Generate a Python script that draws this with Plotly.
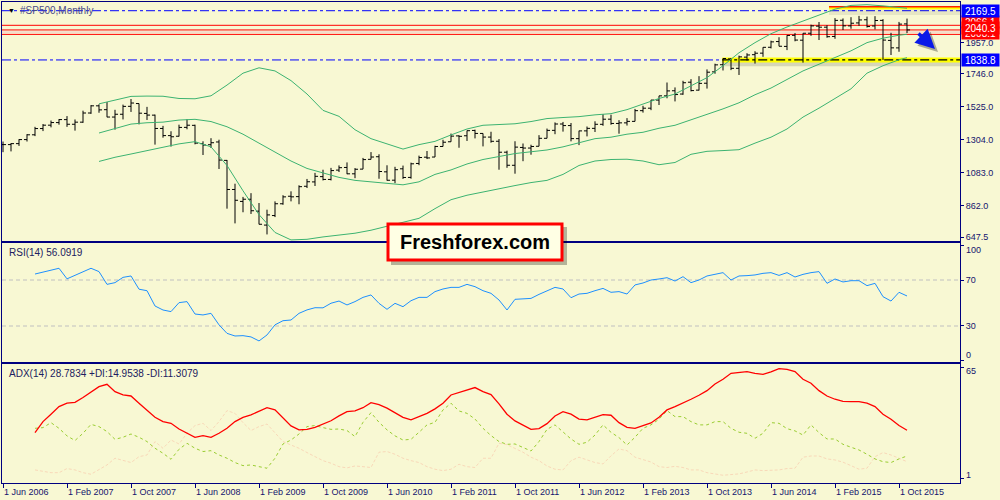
import plotly.graph_objects as go
from plotly.subplots import make_subplots

# MetaTrader-like colours
BG = "#F8F8D3"
FRAME = "#000080"
TXT = "#14146E"
BB_GREEN = "#3CB371"

# monthly bars, index 0 = Jun 2006 ... 113 = Nov 2015
month_idx = list(range(114))

opens = [
    1270.1, 1270.2, 1276.7, 1303.8, 1335.9, 1377.9, 1400.6,
    1418.0, 1437.9, 1406.8, 1420.8, 1482.4, 1530.6, 1504.7, 1455.2, 1474.0, 1527.3, 1545.8, 1479.6,
    1468.0, 1378.6, 1330.5, 1326.4, 1386.0, 1399.6, 1276.7, 1269.4, 1287.8, 1164.2, 968.7, 888.6,
    903.0, 823.1, 729.6, 793.6, 872.7, 923.3, 920.8, 990.2, 1019.5, 1054.9, 1036.2, 1098.9,
    1116.6, 1073.9, 1105.4, 1171.2, 1188.6, 1087.3, 1031.1, 1107.5, 1049.7, 1143.5, 1185.7, 1186.6,
    1257.6, 1289.1, 1328.6, 1329.5, 1365.2, 1345.2, 1320.6, 1292.6, 1219.1, 1131.2, 1251.0, 1246.9,
    1258.9, 1312.5, 1365.9, 1408.5, 1398.0, 1310.3, 1362.3, 1379.3, 1406.5, 1440.9, 1412.2, 1416.2,
    1426.2, 1498.1, 1514.7, 1569.2, 1597.6, 1631.7, 1609.8, 1689.4, 1636.0, 1682.4, 1758.7, 1806.6,
    1845.9, 1782.7, 1857.7, 1874.0, 1884.4, 1923.9, 1962.3, 1929.8, 2004.1, 1971.4, 2018.2, 2065.8,
    2058.9, 1996.7, 2105.2, 2067.6, 2087.4, 2108.6, 2067.0, 2104.5, 1970.1, 1919.7, 2080.8,
]
highs = [
    1290.7, 1280.4, 1306.7, 1340.3, 1389.5, 1407.9, 1431.8,
    1441.6, 1461.6, 1438.9, 1498.0, 1535.6, 1540.6, 1555.9, 1503.9, 1538.7, 1576.1, 1545.8, 1523.6,
    1471.8, 1396.0, 1359.7, 1404.1, 1440.2, 1404.1, 1292.2, 1313.2, 1303.0, 1167.0, 1007.5, 918.9,
    943.9, 877.9, 833.0, 888.7, 930.2, 956.2, 996.7, 1039.5, 1080.2, 1101.4, 1113.7, 1130.4,
    1150.5, 1112.4, 1180.7, 1219.8, 1205.1, 1131.2, 1121.0, 1129.2, 1148.9, 1196.1, 1227.1, 1262.6,
    1302.7, 1344.1, 1332.3, 1364.6, 1370.6, 1345.2, 1356.5, 1307.4, 1229.3, 1292.7, 1277.6, 1269.4,
    1333.5, 1378.0, 1419.2, 1422.4, 1415.3, 1363.5, 1391.7, 1426.7, 1474.5, 1471.0, 1434.3, 1448.0,
    1509.9, 1530.9, 1570.3, 1597.6, 1687.2, 1654.2, 1698.8, 1709.7, 1729.9, 1775.2, 1813.6, 1849.4,
    1850.8, 1867.9, 1884.0, 1897.3, 1924.0, 1968.2, 1991.4, 2005.0, 2019.3, 2018.2, 2075.8, 2093.6,
    2072.4, 2119.6, 2117.5, 2125.9, 2134.7, 2129.9, 2132.8, 2112.7, 2021.0, 2094.3, 2116.5,
]
lows = [
    1219.3, 1224.5, 1261.3, 1290.9, 1327.1, 1360.9, 1385.9,
    1404.0, 1389.4, 1364.0, 1416.4, 1476.7, 1484.2, 1454.3, 1370.6, 1439.3, 1489.6, 1406.1, 1435.7,
    1270.1, 1316.8, 1257.0, 1324.4, 1373.1, 1272.0, 1200.4, 1247.5, 1106.4, 839.8, 741.0, 815.7,
    804.3, 734.5, 666.8, 783.3, 866.1, 888.9, 869.3, 978.5, 992.0, 1029.4, 1029.4, 1085.9,
    1071.6, 1044.5, 1105.4, 1170.7, 1040.8, 1028.3, 1010.9, 1039.7, 1041.2, 1131.9, 1173.0, 1186.6,
    1257.6, 1289.1, 1249.1, 1294.7, 1311.8, 1258.1, 1282.9, 1101.5, 1114.2, 1074.8, 1158.7, 1202.4,
    1258.9, 1312.5, 1340.0, 1357.4, 1292.0, 1266.7, 1325.4, 1354.7, 1396.6, 1403.3, 1343.4, 1398.1,
    1426.2, 1485.0, 1501.5, 1536.0, 1581.3, 1560.3, 1604.6, 1627.5, 1633.4, 1646.5, 1746.2, 1768.0,
    1770.5, 1737.9, 1834.4, 1814.4, 1859.8, 1916.0, 1930.7, 1904.8, 1964.0, 1820.7, 2001.0, 1972.6,
    1988.1, 1980.9, 2039.7, 2048.4, 2067.9, 2056.3, 2044.0, 1838.8, 1871.9, 1893.7, 2019.4,
]
closes = [
    1270.2, 1276.7, 1303.8, 1335.9, 1377.9, 1400.6, 1418.3,
    1438.2, 1406.8, 1420.9, 1482.4, 1530.6, 1503.4, 1455.3, 1474.0, 1526.8, 1549.4, 1481.1, 1468.4,
    1378.6, 1330.6, 1322.7, 1385.6, 1400.4, 1280.0, 1267.4, 1282.8, 1166.4, 968.8, 896.2, 903.3,
    825.9, 735.1, 797.9, 872.8, 919.1, 919.3, 987.5, 1020.6, 1057.1, 1036.2, 1095.6, 1115.1,
    1073.9, 1104.5, 1169.4, 1186.7, 1089.4, 1030.7, 1101.6, 1049.3, 1141.2, 1183.3, 1180.6, 1257.6,
    1286.1, 1327.2, 1325.8, 1363.6, 1345.2, 1320.6, 1292.3, 1218.9, 1131.4, 1253.3, 1247.0, 1257.6,
    1312.4, 1365.7, 1408.5, 1397.9, 1310.3, 1362.2, 1379.3, 1406.6, 1440.7, 1412.2, 1416.2, 1426.2,
    1498.1, 1514.7, 1569.2, 1597.6, 1630.7, 1606.3, 1685.7, 1633.0, 1681.6, 1756.5, 1805.8, 1848.4,
    1782.6, 1859.5, 1872.3, 1884.0, 1923.6, 1960.2, 1930.7, 2003.4, 1972.3, 2018.1, 2067.6, 2058.9,
    1995.0, 2104.5, 2067.9, 2085.5, 2107.4, 2063.1, 2103.8, 1972.2, 1920.0, 2079.4, 2040.3,
]

# Bollinger bands (every second month)
bb_idx = [12, 14, 16, 18, 20, 22, 24, 26, 28, 30, 32, 34, 36, 38, 40, 42, 44, 46, 48, 50,
          52, 54, 56, 58, 60, 62, 64, 66, 68, 70, 72, 74, 76, 78, 80, 82, 84, 86, 88, 90,
          92, 94, 96, 98, 100, 102, 104, 106, 108, 110, 112, 113]
bb_upper = [1544, 1570, 1594, 1596, 1595, 1580, 1578, 1598, 1670, 1750, 1786, 1765, 1700, 1610, 1500, 1460, 1370, 1310, 1275, 1240,
            1270, 1292, 1335, 1375, 1400, 1406, 1410, 1425, 1445, 1452, 1458, 1470, 1478, 1505, 1545, 1580, 1610, 1665, 1720, 1800,
            1887, 1955, 2015, 2060, 2100, 2140, 2180, 2205, 2210, 2202, 2190, 2186]
bb_middle = [1348, 1380, 1408, 1417, 1421, 1435, 1440, 1425, 1390, 1340, 1280, 1220, 1160, 1110, 1078, 1050, 1030, 1020, 1010, 1000,
             1020, 1070, 1100, 1140, 1170, 1190, 1210, 1222, 1234, 1255, 1280, 1310, 1320, 1340, 1353, 1380, 1400, 1435, 1472, 1510,
             1551, 1605, 1650, 1705, 1765, 1810, 1855, 1900, 1955, 1985, 2005, 2011]
bb_lower = [1157, 1185, 1207, 1230, 1250, 1275, 1290, 1255, 1130, 960, 800, 680, 630, 634, 650, 660, 675, 695, 720, 745,
            775, 840, 900, 930, 950, 975, 995, 1015, 1030, 1070, 1130, 1160, 1170, 1172, 1160, 1135, 1150, 1205, 1225, 1230,
            1236, 1280, 1320, 1375, 1455, 1515, 1580, 1645, 1750, 1800, 1840, 1854]

# indicator panes, months 4 .. 113
ind_idx = list(range(4, 114))
rsi = [75.2, 76.7, 78.5, 80.2, 71.0, 74.0, 77.3, 80.2, 77.3, 66.2, 67.7, 72.3, 73.5, 62.0, 60.7, 47.4,
       43.9, 42.5, 50.3, 51.2, 40.4, 39.6, 41.0, 31.0, 23.6, 21.3, 21.6, 20.5, 17.0, 22.2, 31.0, 34.6,
       35.2, 41.0, 44.0, 45.9, 45.8, 49.8, 51.7, 48.3, 51.2, 54.9, 57.0, 49.7, 44.5, 49.7, 46.8, 52.0,
       54.9, 54.9, 59.9, 62.2, 63.6, 63.6, 66.2, 64.2, 60.7, 58.4, 52.6, 43.9, 53.2, 53.5, 54.0, 57.5,
       60.7, 63.6, 62.2, 54.6, 57.8, 58.4, 60.7, 62.7, 59.3, 59.9, 57.8, 65.7, 67.4, 70.0, 70.9, 72.0,
       69.1, 72.9, 67.7, 70.0, 73.5, 75.2, 76.4, 70.0, 73.5, 73.8, 74.4, 75.8, 76.4, 74.0, 76.4, 72.6,
       74.9, 76.4, 77.3, 67.1, 70.9, 68.3, 69.4, 69.4, 65.1, 67.1, 55.5, 51.7, 59.3, 56.1]
adx = [27.4, 33.8, 38.1, 42.5, 44.5, 45.0, 47.8, 51.2, 54.1, 55.5, 51.2, 49.3, 48.7, 44.5, 40.2, 36.3,
       33.8, 32.8, 29.5, 27.0, 24.7, 25.7, 24.7, 27.0, 29.9, 33.8, 36.3, 37.7, 39.6, 41.9, 40.6, 35.7,
       31.3, 29.0, 29.3, 30.5, 32.3, 34.3, 37.1, 39.6, 40.0, 41.9, 44.8, 43.7, 41.6, 39.0, 36.3, 34.8,
       36.5, 38.6, 41.2, 44.5, 49.3, 50.7, 51.8, 53.6, 51.2, 49.5, 44.1, 38.1, 34.2, 31.5, 29.3, 29.7,
       32.6, 37.1, 39.6, 38.1, 35.3, 34.8, 36.3, 37.9, 37.5, 33.2, 30.5, 29.9, 31.5, 33.0, 36.3, 40.6,
       42.5, 44.5, 46.8, 49.1, 51.8, 55.7, 58.4, 61.9, 62.5, 62.9, 61.9, 61.3, 62.7, 64.6, 64.2, 62.9,
       58.4, 56.1, 51.8, 48.7, 46.8, 45.6, 45.4, 45.4, 44.5, 42.5, 38.1, 35.2, 31.5, 28.8]
plus_di = [29.9, 30.3, 33.2, 29.9, 25.5, 22.8, 27.0, 32.2, 30.9, 28.0, 23.5, 24.7, 26.6, 24.7, 22.2, 18.3,
           15.4, 11.9, 17.7, 21.2, 18.3, 16.4, 16.9, 14.4, 12.5, 10.0, 8.2, 8.6, 7.6, 6.7, 12.5, 20.8,
           23.1, 26.6, 30.9, 31.5, 30.3, 29.3, 29.5, 28.6, 25.1, 33.4, 39.0, 33.4, 29.0, 25.5, 23.1, 23.5,
           27.6, 31.9, 33.4, 40.6, 44.5, 40.0, 38.6, 35.3, 29.9, 25.7, 22.2, 20.6, 20.8, 18.9, 16.7, 22.2,
           29.3, 31.9, 28.0, 23.7, 20.6, 21.8, 26.0, 31.9, 27.6, 24.5, 20.2, 24.7, 29.9, 31.9, 35.2, 40.2,
           36.7, 36.7, 33.8, 31.9, 31.9, 33.8, 33.8, 29.9, 27.6, 27.0, 24.1, 27.0, 33.2, 32.8, 29.7, 28.4,
           26.0, 31.9, 27.4, 23.7, 23.7, 20.6, 18.9, 17.3, 14.8, 12.1, 10.5, 10.0, 12.1, 13.8]
minus_di = [5.7, 5.1, 4.1, 4.1, 6.5, 5.7, 4.1, 3.2, 5.7, 8.6, 12.5, 11.1, 10.0, 13.4, 14.4, 22.2,
            18.3, 23.1, 20.8, 27.0, 31.5, 32.8, 28.6, 33.8, 40.2, 38.6, 33.2, 28.6, 30.9, 32.4, 27.0, 22.2,
            20.2, 18.3, 15.8, 13.4, 11.1, 9.6, 7.6, 6.9, 8.0, 7.6, 7.1, 16.0, 16.4, 14.8, 12.5, 11.1,
            10.0, 7.6, 6.1, 5.3, 6.1, 9.0, 7.6, 7.1, 12.5, 12.5, 21.2, 20.4, 18.3, 16.0, 13.1, 11.1,
            8.0, 6.1, 5.7, 11.1, 13.1, 11.5, 10.0, 9.2, 13.9, 17.9, 16.9, 13.1, 11.8, 10.3, 7.6, 7.1,
            7.8, 7.1, 5.7, 5.7, 4.1, 3.4, 2.6, 3.0, 3.4, 4.5, 5.7, 5.3, 5.3, 5.7, 6.5, 6.7,
            13.1, 13.8, 13.8, 12.1, 11.5, 10.2, 8.2, 6.1, 6.7, 13.4, 15.8, 14.4, 12.5, 10.5]

# axis labels
date_ticks = list(range(0, 113, 8))
date_labels = ["1 Jun 2006", "1 Feb 2007", "1 Oct 2007", "1 Jun 2008", "1 Feb 2009",
               "1 Oct 2009", "1 Jun 2010", "1 Feb 2011", "1 Oct 2011", "1 Jun 2012",
               "1 Feb 2013", "1 Oct 2013", "1 Jun 2014", "1 Feb 2015", "1 Oct 2015"]
price_ticks = [647.5, 862.0, 1083.0, 1304.0, 1525.0, 1746.0, 1957.0]
rsi_ticks = [0, 30, 70, 100]
adx_ticks = [1, 65]
# MetaTrader pulls the edge labels of a sub-window inwards
rsi_edge_labels = [(4.5, "0"), (96.5, "100")]
adx_edge_labels = [(2.8, "1"), (63.3, "65")]

# horizontal levels drawn on the price pane
resistance = 2169.5
support = 1838.8
red_levels = [2071.5, 2040.3, 2010.5]
red_labels = ["2066.1", "2040.3", "2008.1"]
top_zone = 2196.5
zone_start = 103.25     # month index where the top highlight begins
support_start = 89.9    # month index where the support highlight begins
arrow_from = (114.25, 2026.5)
arrow_to = (116.5, 1912.0)


def px_x(px):
    return (px - 2) / 958


def px_y(px):
    return (483 - px) / 481


fig = make_subplots(rows=3, cols=1, shared_xaxes=True, vertical_spacing=0)

fig.add_trace(go.Ohlc(
    x=month_idx, open=opens, high=highs, low=lows, close=closes,
    increasing_line_color="black", decreasing_line_color="black",
    line_width=1, tickwidth=0.38, hoverinfo="skip", showlegend=False
), row=1, col=1)

for band in (bb_upper, bb_middle, bb_lower):
    fig.add_trace(go.Scatter(
        x=bb_idx, y=band, mode="lines",
        line=dict(color=BB_GREEN, width=1), hoverinfo="skip", showlegend=False
    ), row=1, col=1)

fig.add_trace(go.Scatter(
    x=ind_idx, y=rsi, mode="lines",
    line=dict(color="#1E90FF", width=1), hoverinfo="skip", showlegend=False
), row=2, col=1)

fig.add_trace(go.Scatter(
    x=ind_idx, y=minus_di, mode="lines",
    line=dict(color="#F9D9B9", width=1, dash="3px,2px"), hoverinfo="skip", showlegend=False
), row=3, col=1)
fig.add_trace(go.Scatter(
    x=ind_idx, y=plus_di, mode="lines",
    line=dict(color="#9ACD32", width=1, dash="3px,3px"), hoverinfo="skip", showlegend=False
), row=3, col=1)
fig.add_trace(go.Scatter(
    x=ind_idx, y=adx, mode="lines",
    line=dict(color="#FF0000", width=1.3), hoverinfo="skip", showlegend=False
), row=3, col=1)

axis_common = dict(showgrid=False, zeroline=False, showline=True, mirror=True,
                   linecolor=FRAME, linewidth=1)
fig.update_xaxes(range=[-0.125, 119.625], rangeslider_visible=False,
                 showticklabels=False, ticks="", **axis_common)
fig.update_xaxes(
    tickmode="array", tickvals=date_ticks, ticktext=date_labels,
    showticklabels=True, ticks="outside", ticklen=4, tickcolor=FRAME,
    ticklabelposition="outside right", tickfont=dict(size=9, color=TXT),
    row=3, col=1
)

ytick = dict(side="right", ticks="outside", ticklen=3, tickcolor=FRAME,
             tickfont=dict(size=9, color=TXT), **axis_common)
fig.update_layout(
    yaxis=dict(domain=[0.5031, 1.0], range=[622.6, 2228], tickvals=price_ticks,
               ticktext=["%.1f" % v for v in price_ticks], **ytick),
    yaxis2=dict(domain=[0.2516, 0.4990], range=[-1.3, 102.2], tickvals=rsi_ticks,
                ticktext=["", "30", "70", ""], **ytick),
    yaxis3=dict(domain=[0.0, 0.2474], range=[-1.9, 67.3], tickvals=adx_ticks,
                ticktext=["", ""], **ytick),
)

shapes = []
# red price lines and faint bid line
for lvl in red_levels:
    shapes.append(dict(type="line", xref="paper", yref="y", x0=0, x1=1, y0=lvl, y1=lvl,
                       line=dict(color="#FF0000", width=1), layer="below"))
shapes.append(dict(type="line", xref="paper", yref="y", x0=0, x1=1, y0=2026, y1=2026,
                   line=dict(color="#F2C4C4", width=1), layer="below"))
# top highlighted zone
shapes.append(dict(type="rect", xref="x", yref="y", x0=zone_start, x1=119.625, y0=2140, y1=2172,
                   fillcolor="rgba(0,0,0,0.07)", line_width=0, layer="below"))
shapes.append(dict(type="line", xref="x", yref="y", x0=zone_start, x1=119.625, y0=2188, y1=2188,
                   line=dict(color="#FFFF00", width=3), layer="below"))
shapes.append(dict(type="line", xref="x", yref="y", x0=zone_start, x1=119.625, y0=top_zone, y1=top_zone,
                   line=dict(color="#FF2000", width=1.5), layer="below"))
# blue dash-dot resistance
shapes.append(dict(type="line", xref="paper", yref="y", x0=0, x1=1, y0=resistance, y1=resistance,
                   line=dict(color="#0000FF", width=1, dash="dashdot"), layer="below"))
# support: blue on the left, yellow highlight with black dash-dot on the right
shapes.append(dict(type="line", xref="x", yref="y", x0=-0.125, x1=support_start, y0=support, y1=support,
                   line=dict(color="#0000FF", width=1, dash="dashdot"), layer="below"))
shapes.append(dict(type="line", xref="x", yref="y", x0=support_start, x1=119.625,
                   y0=support - 22, y1=support - 22,
                   line=dict(color="rgba(60,60,60,0.18)", width=6), layer="below"))
shapes.append(dict(type="line", xref="x", yref="y", x0=support_start, x1=119.625, y0=support, y1=support,
                   line=dict(color="#FFFF00", width=5), layer="below"))
shapes.append(dict(type="line", xref="x", yref="y", x0=support_start, x1=119.625, y0=support, y1=support,
                   line=dict(color="black", width=1.3, dash="dashdot"), layer="below"))
# RSI levels
for lvl in (70, 30):
    shapes.append(dict(type="line", xref="paper", yref="y2", x0=0, x1=1, y0=lvl, y1=lvl,
                       line=dict(color="#C0C0C0", width=1, dash="4px,3px"), layer="below"))
# logo box with drop shadow
shapes.append(dict(type="rect", xref="paper", yref="paper",
                   x0=px_x(391), x1=px_x(567), y0=px_y(265), y1=px_y(227),
                   fillcolor="rgba(0,0,0,0.28)", line_width=0, layer="above"))
shapes.append(dict(type="rect", xref="paper", yref="paper",
                   x0=px_x(388), x1=px_x(562), y0=px_y(260), y1=px_y(224),
                   fillcolor="#FFFFE4", line=dict(color="#FF0000", width=3), layer="above"))

annotations = [
    dict(xref="paper", yref="paper", x=px_x(6), y=px_y(10), text="▼", showarrow=False,
         xanchor="left", yanchor="middle", font=dict(size=7, color="black")),
    dict(xref="paper", yref="paper", x=px_x(18), y=px_y(10), text="#SP500,Monthly", showarrow=False,
         xanchor="left", yanchor="middle", font=dict(size=10, color="#4A4A86")),
    dict(xref="paper", yref="paper", x=px_x(7), y=px_y(252.5), text="RSI(14) 56.0919", showarrow=False,
         xanchor="left", yanchor="middle", font=dict(size=10, color="#202060")),
    dict(xref="paper", yref="paper", x=px_x(7), y=px_y(373.7),
         text="ADX(14) 28.7834 +DI:14.9538 -DI:11.3079", showarrow=False,
         xanchor="left", yanchor="middle", font=dict(size=10, color="#202060")),
    dict(xref="paper", yref="paper", x=px_x(475), y=px_y(242), text="Freshforex.com", showarrow=False,
         xanchor="center", yanchor="middle",
         font=dict(size=20, color="black", family="Liberation Sans", weight="bold")),
]
for yref, edge in (("y2", rsi_edge_labels), ("y3", adx_edge_labels)):
    for val, lab in edge:
        annotations.append(dict(xref="paper", yref=yref, x=1.0, y=val, xanchor="left",
                                yanchor="middle", xshift=4, text=lab, showarrow=False,
                                font=dict(size=9, color=TXT)))
# arrow with a soft shadow
annotations.append(dict(xref="x", yref="y", axref="x", ayref="y",
                        x=arrow_to[0], y=arrow_to[1], ax=arrow_from[0], ay=arrow_from[1],
                        text="", showarrow=True, arrowhead=2, arrowsize=1.1, arrowwidth=3.5,
                        arrowcolor="rgba(0,0,0,0.3)", xshift=3, yshift=-3))
annotations.append(dict(xref="x", yref="y", axref="x", ayref="y",
                        x=arrow_to[0], y=arrow_to[1], ax=arrow_from[0], ay=arrow_from[1],
                        text="", showarrow=True, arrowhead=2, arrowsize=1.1, arrowwidth=3.5,
                        arrowcolor="#0A1AE8"))
# price tags on the right axis (the 2040.3 tag sits on top of its neighbours)
for lvl, lab, shift in [(red_levels[0], red_labels[0], 3), (red_levels[2], red_labels[2], 1),
                        (red_levels[1], red_labels[1], 1.5)]:
    annotations.append(dict(xref="paper", yref="y", x=1.0, y=lvl, xanchor="left", yanchor="middle",
                            xshift=1, yshift=shift, text=lab, showarrow=False, bgcolor="#FF0000",
                            width=37, height=12, borderpad=0,
                            font=dict(size=10, color="white")))
for lvl in (resistance, support):
    annotations.append(dict(xref="paper", yref="y", x=1.0, y=lvl, xanchor="left", yanchor="middle",
                            xshift=1, text="%.1f" % lvl, showarrow=False, bgcolor="#0000FF",
                            width=37, height=12, borderpad=0,
                            font=dict(size=10, color="white")))

fig.update_layout(
    width=1000, height=500,
    margin=dict(l=2, r=40, t=2, b=17, autoexpand=False),
    plot_bgcolor=BG, paper_bgcolor=BG,
    font=dict(family="Liberation Sans", size=9, color=TXT),
    showlegend=False,
    shapes=shapes, annotations=annotations,
)

fig.write_html("out.html", config={"displayModeBar": False},
               post_script="document.body.style.margin='0';")
